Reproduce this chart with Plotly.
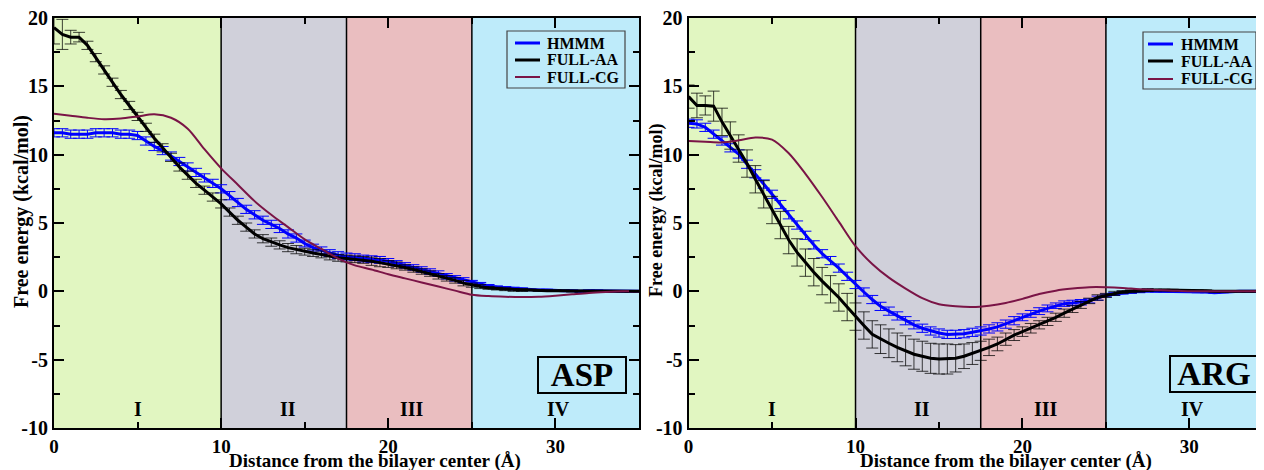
import plotly.graph_objects as go

# ---------------- data ----------------
dist_half = [0, 0.5, 1, 1.5, 2, 2.5, 3, 3.5, 4, 4.5,
             5, 5.5, 6, 6.5, 7, 7.5, 8, 8.5, 9, 9.5,
             10, 10.5, 11, 11.5, 12, 12.5, 13, 13.5, 14, 14.5,
             15, 15.5, 16, 16.5, 17, 17.5, 18, 18.5, 19, 19.5,
             20, 20.5, 21, 21.5, 22, 22.5, 23, 23.5, 24, 24.5,
             25, 25.5, 26, 26.5, 27, 27.5, 28, 28.5, 29, 29.5,
             30, 30.5, 31, 31.5, 32, 32.5, 33, 33.5, 34, 34.5,
             35]
dist_one = [0, 1, 2, 3, 4, 5, 6, 7, 8, 9,
            10, 11, 12, 13, 14, 15, 16, 17, 18, 19,
            20, 21, 22, 23, 24, 25, 26, 27, 28, 29,
            30, 31, 32, 33, 34, 35]

asp_hmmm = [11.6, 11.6, 11.5, 11.5, 11.5, 11.6, 11.6, 11.6, 11.5, 11.5,
            11.4, 11.0, 10.6, 10.3, 9.9, 9.5, 9.1, 8.7, 8.3, 7.9,
            7.5, 7.0, 6.5, 6.0, 5.6, 5.2, 4.9, 4.6, 4.2, 3.9,
            3.5, 3.2, 3.0, 2.8, 2.65, 2.55, 2.5, 2.4, 2.35, 2.3,
            2.2, 2.05, 1.9, 1.75, 1.6, 1.45, 1.3, 1.1, 0.95, 0.8,
            0.65, 0.5, 0.4, 0.3, 0.25, 0.2, 0.15, 0.1, 0.1, 0.1,
            0.05, 0.05, 0.05, 0.0, 0.05, 0.05, 0.0, 0.0, 0.0, 0.0,
            0.0]
asp_hmmm_err = [0.3, 0.3, 0.3, 0.3, 0.3, 0.3, 0.3, 0.3, 0.3, 0.3,
                0.3, 0.3, 0.3, 0.3, 0.3, 0.3, 0.3, 0.3, 0.3, 0.3,
                0.3, 0.3, 0.3, 0.3, 0.3, 0.3, 0.3, 0.3, 0.3, 0.3,
                0.25, 0.25, 0.25, 0.25, 0.25, 0.25, 0.25, 0.25, 0.25, 0.25,
                0.2, 0.2, 0.2, 0.2, 0.2, 0.2, 0.2, 0.2, 0.2, 0.2,
                0.15, 0.15, 0.1, 0.1, 0.1, 0.1, 0.1, 0.05, 0.05, 0.05,
                0.05, 0.05, 0.05, 0.05, 0.05, 0.05, 0.05, 0.05, 0.05, 0.05,
                0.05]
asp_aa = [19.3, 18.8, 18.6, 18.6, 18.0, 17.1, 16.2, 15.3, 14.4, 13.6,
          12.8, 12.0, 11.2, 10.5, 9.8, 9.1, 8.5, 7.9, 7.4, 6.9,
          6.4, 5.8, 5.2, 4.7, 4.2, 3.85, 3.6, 3.4, 3.2, 3.05,
          2.9, 2.8, 2.7, 2.55, 2.45, 2.4, 2.35, 2.3, 2.2, 2.1,
          2.0, 1.9, 1.75, 1.6, 1.45, 1.3, 1.1, 0.95, 0.8, 0.6,
          0.45, 0.35, 0.25, 0.2, 0.15, 0.1, 0.1, 0.1, 0.05, 0.05,
          0.05, 0.05, 0.0, 0.0, 0.0, 0.0, 0.0, 0.0, 0.0, 0.0,
          0.0]
asp_aa_err = [1.2, 1.1, 0.5, 0.35, 0.3, 0.3, 0.3, 0.3, 0.3, 0.3,
              0.3, 0.3, 0.3, 0.3, 0.3, 0.3, 0.3, 0.3, 0.3, 0.3,
              0.3, 0.3, 0.3, 0.3, 0.3, 0.3, 0.3, 0.3, 0.3, 0.3,
              0.25, 0.25, 0.25, 0.25, 0.25, 0.25, 0.25, 0.25, 0.3, 0.3,
              0.25, 0.25, 0.2, 0.2, 0.2, 0.2, 0.2, 0.2, 0.2, 0.2,
              0.15, 0.15, 0.1, 0.1, 0.1, 0.1, 0.1, 0.05, 0.05, 0.05,
              0.05, 0.05, 0.05, 0.05, 0.05, 0.05, 0.05, 0.05, 0.05, 0.05,
              0.05]
asp_cg = [13.0, 12.85, 12.7, 12.6, 12.65, 12.8, 12.95, 12.7, 11.9, 10.4,
          9.0, 7.8, 6.6, 5.6, 4.7, 3.8, 3.1, 2.4, 1.9, 1.6,
          1.25, 0.95, 0.65, 0.35, 0.05, -0.25, -0.35, -0.4, -0.42, -0.4,
          -0.32, -0.22, -0.12, -0.05, 0.0, 0.0]

arg_hmmm = [12.3, 12.25, 12.0, 11.5, 11.0, 10.5, 10.05, 9.3, 8.6, 7.85,
            7.1, 6.35, 5.6, 4.85, 4.1, 3.4, 2.75, 2.25, 1.7, 1.1,
            0.5, -0.05, -0.6, -1.1, -1.45, -1.8, -2.15, -2.45, -2.7, -2.9,
            -3.05, -3.15, -3.15, -3.1, -3.0, -2.9, -2.75, -2.6, -2.4, -2.15,
            -1.9, -1.65, -1.45, -1.25, -1.05, -0.9, -0.85, -0.8, -0.7, -0.5,
            -0.3, -0.2, -0.1, -0.05, 0.0, 0.05, 0.0, 0.0, 0.0, 0.0,
            0.0, -0.05, -0.05, -0.1, -0.05, 0.0, 0.0, 0.0, 0.0, 0.0,
            0.0]
arg_hmmm_err = [0.3, 0.3, 0.3, 0.3, 0.3, 0.3, 0.3, 0.3, 0.3, 0.3,
                0.3, 0.3, 0.3, 0.3, 0.3, 0.3, 0.3, 0.3, 0.3, 0.3,
                0.3, 0.3, 0.3, 0.3, 0.3, 0.3, 0.3, 0.3, 0.3, 0.3,
                0.3, 0.3, 0.3, 0.3, 0.3, 0.3, 0.3, 0.3, 0.3, 0.3,
                0.25, 0.25, 0.25, 0.25, 0.2, 0.2, 0.2, 0.2, 0.15, 0.15,
                0.1, 0.1, 0.1, 0.1, 0.1, 0.1, 0.05, 0.05, 0.05, 0.05,
                0.05, 0.05, 0.05, 0.05, 0.05, 0.05, 0.05, 0.05, 0.05, 0.05,
                0.05]
arg_aa = [14.25, 13.6, 13.6, 13.55, 12.4, 11.4, 10.45, 9.35, 8.2, 7.1,
          5.95, 4.85, 3.75, 2.85, 2.1, 1.4, 0.75, 0.15, -0.45, -1.15,
          -1.85, -2.5, -3.15, -3.5, -3.8, -4.1, -4.35, -4.6, -4.75, -4.9,
          -4.95, -4.95, -4.9, -4.75, -4.55, -4.35, -4.1, -3.85, -3.5, -3.2,
          -2.95, -2.7, -2.45, -2.2, -1.9, -1.6, -1.3, -1.0, -0.7, -0.45,
          -0.3, -0.15, -0.05, 0.0, 0.05, 0.1, 0.1, 0.1, 0.1, 0.05,
          0.05, 0.05, 0.05, 0.0, 0.0, 0.0, 0.0, 0.0, 0.0, 0.0,
          0.0]
arg_aa_err = [0.85, 0.9, 0.7, 1.1, 1.0, 1.0, 1.0, 1.0, 1.0, 1.0,
              1.0, 1.0, 1.0, 1.0, 1.0, 1.0, 1.0, 1.0, 1.0, 1.0,
              1.0, 1.0, 1.0, 1.05, 1.05, 1.05, 1.1, 1.1, 1.1, 1.1,
              1.1, 1.1, 1.0, 0.9, 0.8, 0.7, 0.6, 0.5, 0.45, 0.4,
              0.35, 0.35, 0.3, 0.3, 0.3, 0.3, 0.25, 0.25, 0.2, 0.2,
              0.15, 0.15, 0.1, 0.1, 0.1, 0.1, 0.05, 0.05, 0.05, 0.05,
              0.05, 0.05, 0.05, 0.05, 0.05, 0.05, 0.05, 0.05, 0.05, 0.05,
              0.05]
arg_cg = [11.0, 10.95, 10.9, 11.05, 11.25, 11.1, 10.1, 8.6, 6.9, 5.1,
          3.3, 2.0, 1.0, 0.2, -0.5, -0.95, -1.1, -1.15, -1.05, -0.85,
          -0.55, -0.2, 0.05, 0.2, 0.3, 0.3, 0.25, 0.15, 0.1, 0.05,
          0.0, 0.0, 0.0, 0.0, 0.0, 0.0]

region_edges = [0, 10, 17.5, 25, 35]
region_labels = ["I", "II", "III", "IV"]
region_label_x = [5, 14, 21.4, 30.2]
region_colors = ["rgb(225,246,193)", "rgb(208,208,218)",
                 "rgb(234,190,192)", "rgb(190,235,250)"]
series_names = ["HMMM", "FULL-AA", "FULL-CG"]
panel_names = ["ASP", "ARG"]
x_tick_vals = [0, 10, 20, 30]
x_tick_text = ["0", "10", "20", "30"]
y_tick_vals = [-10, -5, 0, 5, 10, 15, 20]
y_tick_text = ["-10", "-5", "0", "5", "10", "15", "20"]

# ---------------- style ----------------
SERIF = "Liberation Serif"
BLUE = "#0000ff"
BLACK = "#000000"
MAROON = "#7a1446"
series_colors = [BLUE, BLACK, MAROON]
series_widths = [3, 3, 2]

# the page puts the figure 8 px in from the top-left corner
OFF = 8
W, H = 1264, 462


def fx(px):
    return (px - OFF) / W


def fy(py):
    return 1 - (py - OFF) / H


panels = [
    dict(x="x", y="y", xmax=35,
         hmmm=asp_hmmm, hmmm_err=asp_hmmm_err, aa=asp_aa, aa_err=asp_aa_err, cg=asp_cg,
         label=panel_names[0], lab_xy=(31.6, -6.1),
         leg_box=(507, 625, 31, 88), leg_line=(515, 540), leg_text=545, leg_rows=(43, 60, 77)),
    dict(x="x2", y="y2", xmax=34.95,
         hmmm=arg_hmmm, hmmm_err=arg_hmmm_err, aa=arg_aa, aa_err=arg_aa_err, cg=arg_cg,
         label=panel_names[1], lab_xy=(31.45, -6.05),
         leg_box=(1143, 1256, 32, 89), leg_line=(1148, 1173), leg_text=1179, leg_rows=(44, 61, 79)),
]

fig = go.Figure()
shapes = []
annotations = []

for p in panels:
    xr, yr = p["x"], p["y"]
    for i in range(4):
        x0 = region_edges[i]
        x1 = min(region_edges[i + 1], p["xmax"])
        shapes.append(dict(type="rect", xref=xr, yref=yr, x0=x0, x1=x1, y0=-10, y1=20,
                           fillcolor=region_colors[i], line=dict(width=0), layer="below"))
        annotations.append(dict(xref=xr, yref=yr, x=region_label_x[i], y=-8.6,
                                text="<b>" + region_labels[i] + "</b>", showarrow=False,
                                font=dict(family=SERIF, size=20, color="black")))
    for e in region_edges[1:4]:
        shapes.append(dict(type="line", xref=xr, yref=yr, x0=e, x1=e, y0=-10, y1=20,
                           line=dict(color="black", width=1.5), layer="below"))
    fig.add_trace(go.Scatter(
        x=dist_half, y=p["hmmm"], mode="lines", name=series_names[0], showlegend=False,
        line=dict(color=BLUE, width=3), xaxis=xr, yaxis=yr,
        error_y=dict(type="data", array=p["hmmm_err"], color=BLUE, thickness=1, width=6)))
    fig.add_trace(go.Scatter(
        x=dist_half, y=p["aa"], mode="lines", name=series_names[1], showlegend=False,
        line=dict(color=BLACK, width=3), xaxis=xr, yaxis=yr,
        error_y=dict(type="data", array=p["aa_err"], color="rgba(0,0,0,0.75)", thickness=1, width=6)))
    fig.add_trace(go.Scatter(
        x=dist_one, y=p["cg"], mode="lines", name=series_names[2], showlegend=False,
        line=dict(color=MAROON, width=2, shape="spline", smoothing=0.8),
        xaxis=xr, yaxis=yr))
    annotations.append(dict(xref=xr, yref=yr, x=p["lab_xy"][0], y=p["lab_xy"][1],
                            text="<b>" + p["label"] + "</b>", showarrow=False, width=84, height=32,
                            bordercolor="black", borderwidth=2, borderpad=1,
                            font=dict(family=SERIF, size=33, color="black")))
    # boxed legend drawn by hand
    bx0, bx1, by0, by1 = p["leg_box"]
    shapes.append(dict(type="rect", xref="paper", yref="paper",
                       x0=fx(bx0), x1=fx(bx1), y0=fy(by1), y1=fy(by0),
                       line=dict(color="#444", width=1.2), fillcolor="rgba(0,0,0,0)"))
    for k in range(3):
        yy = fy(p["leg_rows"][k])
        shapes.append(dict(type="line", xref="paper", yref="paper",
                           x0=fx(p["leg_line"][0]), x1=fx(p["leg_line"][1]), y0=yy, y1=yy,
                           line=dict(color=series_colors[k], width=series_widths[k])))
        annotations.append(dict(xref="paper", yref="paper", x=fx(p["leg_text"]), y=yy,
                                xanchor="left", yanchor="middle", showarrow=False,
                                text="<b>" + series_names[k] + "</b>",
                                font=dict(family=SERIF, size=16, color="black")))

tickfont = dict(family=SERIF, size=20, color="black")


def xaxis(domain, rng):
    return dict(domain=domain, range=rng, tickvals=x_tick_vals,
                ticktext=["<b>" + t + "</b>" for t in x_tick_text], ticks="inside",
                ticklen=10, tickwidth=1.5, tickcolor="black",
                minor=dict(tickvals=[5, 15, 25], ticks="inside", ticklen=6,
                           tickwidth=1.5, tickcolor="black"),
                showline=True, linewidth=2, linecolor="black", mirror="ticks",
                showgrid=False, zeroline=False, tickfont=dict(family=SERIF, size=19, color="black"),
                ticklabelstandoff=0, ticklabeloverflow="allow", automargin=False)


def yaxis(domain, anchor):
    return dict(domain=domain, range=[-10, 20], tickvals=y_tick_vals,
                ticktext=["<b>" + t + "</b>" for t in y_tick_text],
                ticks="inside", ticklen=10, tickwidth=1.5, tickcolor="black",
                minor=dict(tickvals=[-7.5, -2.5, 2.5, 7.5, 12.5, 17.5], ticks="inside",
                           ticklen=6, tickwidth=1.5, tickcolor="black"),
                showline=True, linewidth=2, linecolor="black", mirror="ticks",
                showgrid=False, zeroline=False, tickfont=tickfont, anchor=anchor,
                ticklabelstandoff=0, ticklabeloverflow="allow", automargin=False)


ydom = [fy(428), fy(18)]
fig.update_layout(
    width=W, height=H, margin=dict(l=0, r=0, t=0, b=0, autoexpand=False),
    paper_bgcolor="white", plot_bgcolor="white", showlegend=False,
    xaxis=xaxis([fx(54), fx(639)], [0, 35]),
    yaxis=yaxis(ydom, "x"),
    xaxis2=xaxis([fx(688.6), 1.0], [0, 34.95]),
    yaxis2=yaxis(ydom, "x2"),
    shapes=shapes,
)

xtitle_font = dict(family=SERIF, size=19, color="black")
xtitle = "<b>Distance from the bilayer center (Å)</b>"
ytitle = "<b>Free energy (kcal/mol)</b>"
annotations += [
    dict(xref="paper", yref="paper", x=fx(375), y=fy(461), text=xtitle,
         showarrow=False, font=xtitle_font, xanchor="center", yanchor="middle"),
    dict(xref="paper", yref="paper", x=fx(1006), y=fy(461), text=xtitle,
         showarrow=False, font=xtitle_font, xanchor="center", yanchor="middle"),
    dict(xref="paper", yref="paper", x=fx(22), y=fy(212), text=ytitle,
         showarrow=False, font=dict(family=SERIF, size=20, color="black"),
         textangle=-90, xanchor="center", yanchor="middle"),
    dict(xref="paper", yref="paper", x=fx(657), y=fy(210), text=ytitle,
         showarrow=False, font=dict(family=SERIF, size=18, color="black"),
         textangle=-90, xanchor="center", yanchor="middle"),
]
fig.update_layout(annotations=annotations)

fig.write_html("out.html")
